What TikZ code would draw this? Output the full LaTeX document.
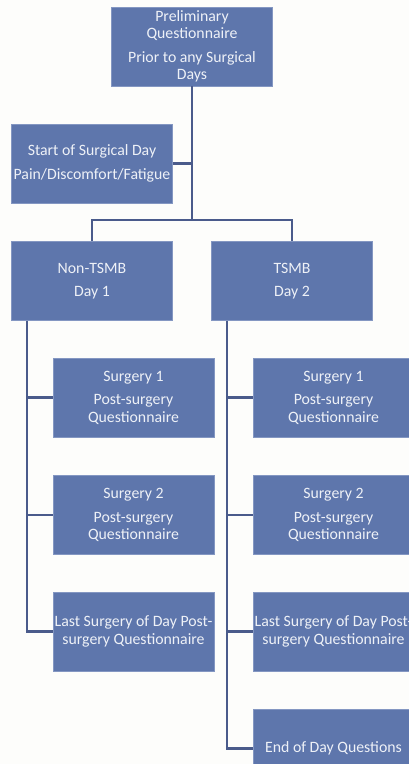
\documentclass[tikz,border=0pt]{standalone}
\usepackage{fontspec}
\setmainfont{Carlito}
\definecolor{boxfill}{HTML}{5E76AC}
\definecolor{boxedge}{HTML}{8497C2}
\definecolor{linecol}{HTML}{4A5B8B}
\definecolor{txt}{HTML}{EEF1F7}
\definecolor{bg}{HTML}{FDFDFB}
\begin{document}
\begin{tikzpicture}[x=1pt,y=-1pt,
  box/.style={fill=boxfill, draw=boxedge, line width=0.6pt,
    minimum width=161pt, minimum height=79pt, inner sep=0pt,
    align=center, text=txt, font=\fontsize{15.8}{17.5}\selectfont},
  conn/.style={draw=linecol, line width=2.8pt, line join=miter}]
\useasboundingbox (0,0) rectangle (409,764);
\clip (0,0) rectangle (409,764);
\fill[bg] (0,0) rectangle (409,764);

\node[box] (top) at (192,46.5) {Preliminary\\Questionnaire\\[6pt]Prior to any Surgical\\Days};
\node[box] (start) at (92,163.5) {Start of Surgical Day\\[6pt]Pain/Discomfort/Fatigue};
\node[box] (non) at (92,281) {Non-TSMB\\[6pt]Day 1};
\node[box] (tsmb) at (292,281) {TSMB\\[6pt]Day 2};

\node[box] (l1) at (133.5,397.5) {Surgery 1\\[6pt]Post-surgery\\Questionnaire};
\node[box] (l2) at (133.5,515) {Surgery 2\\[6pt]Post-surgery\\Questionnaire};
\node[box] (l3) at (133.5,631.5) {Last Surgery of Day Post-\\surgery Questionnaire};

\node[box] (r1) at (333.5,397.5) {Surgery 1\\[6pt]Post-surgery\\Questionnaire};
\node[box] (r2) at (333.5,515) {Surgery 2\\[6pt]Post-surgery\\Questionnaire};
\node[box] (r3) at (333.5,631.5) {Last Surgery of Day Post-\\surgery Questionnaire};
\node[box] (r4) at (333.5,748.5) {End of Day Questions};

\coordinate (j) at (192,220);
\coordinate (ls) at (27,320.5);
\coordinate (rs) at (227,320.5);

\draw[conn] (top.south) -- (j);
\draw[conn] (start.east) -- (start.east -| j);
\draw[conn] (non.north) |- (j) -| (tsmb.north);

\draw[conn] (ls) |- (l3.west);
\draw[conn] (l1.west) -- (l1.west -| ls);
\draw[conn] (l2.west) -- (l2.west -| ls);

\draw[conn] (rs) |- (r4.west);
\draw[conn] (r1.west) -- (r1.west -| rs);
\draw[conn] (r2.west) -- (r2.west -| rs);
\draw[conn] (r3.west) -- (r3.west -| rs);
\end{tikzpicture}
\end{document}
